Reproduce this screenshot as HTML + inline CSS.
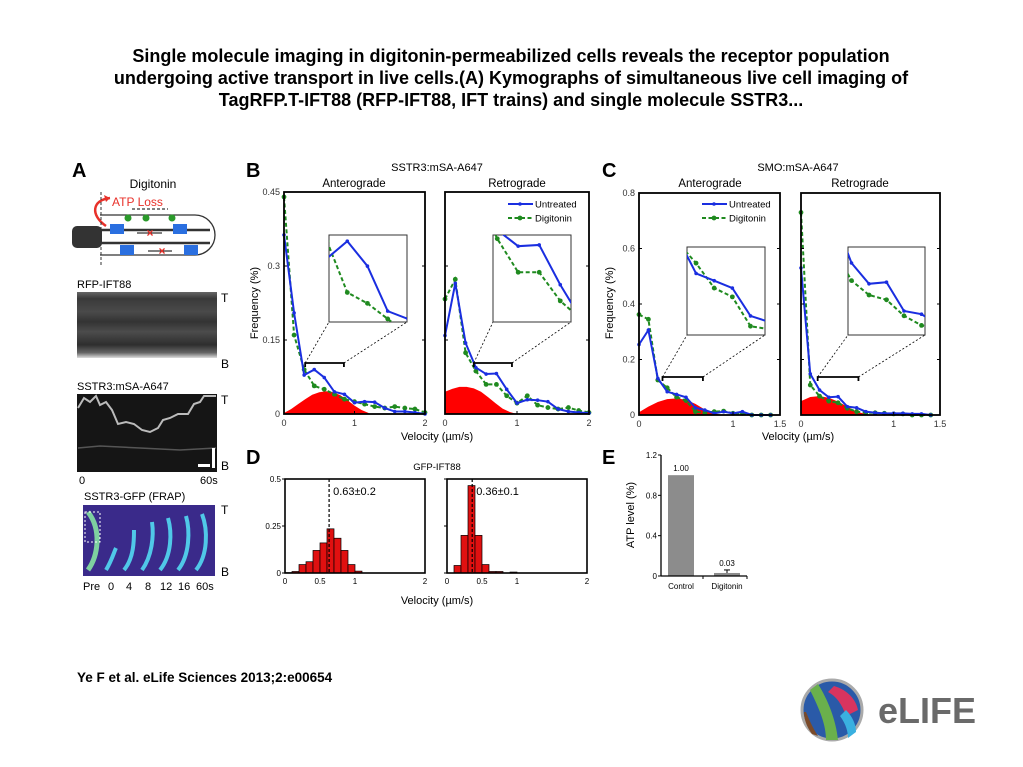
<!DOCTYPE html>
<html><head><meta charset="utf-8"><style>
body{margin:0;background:#fff;}
svg{display:block;font-family:"Liberation Sans",Arial,sans-serif;}
</style></head><body>
<svg id="fig" width="1023" height="767" viewBox="0 0 1023 767" xmlns="http://www.w3.org/2000/svg">
<defs>
<linearGradient id="kg1" x1="0" y1="0" x2="0" y2="1">
<stop offset="0" stop-color="#666"/><stop offset="0.1" stop-color="#3a3a3a"/><stop offset="0.3" stop-color="#4a4a4a"/><stop offset="0.45" stop-color="#333"/><stop offset="0.6" stop-color="#4c4c4c"/><stop offset="0.8" stop-color="#2e2e2e"/><stop offset="0.92" stop-color="#666"/><stop offset="1" stop-color="#ddd"/>
</linearGradient>
</defs>
<g font-weight="bold" font-size="18" text-anchor="middle" fill="#000">
<text x="511" y="62">Single molecule imaging in digitonin-permeabilized cells reveals the receptor population</text>
<text x="511" y="84">undergoing active transport in live cells.(A) Kymographs of simultaneous live cell imaging of</text>
<text x="511" y="106">TagRFP.T-IFT88 (RFP-IFT88, IFT trains) and single molecule SSTR3...</text>
</g>
<g font-weight="bold" font-size="20">
<text x="72" y="177">A</text><text x="246" y="177">B</text><text x="602" y="177">C</text><text x="246" y="464">D</text><text x="602" y="464">E</text>
</g>

<!-- Panel A -->
<g font-size="11">
<text x="153" y="188" text-anchor="middle" font-size="12">Digitonin</text>
<text x="112" y="206" fill="#e8312a" font-size="12">ATP Loss</text>
<path d="M106 226 C 90 215, 92 200, 110 198" stroke="#e8312a" stroke-width="2.5" fill="none"/>
<path d="M110 198 l-6 -3 l2 7z" fill="#e8312a"/>
<line x1="101" y1="192" x2="101" y2="265" stroke="#333" stroke-dasharray="3,2"/>
<path d="M100 215 L195 215 A20 20 0 0 1 195 255 L100 255" stroke="#333" fill="none" stroke-width="1.3"/>
<rect x="72" y="226" width="30" height="22" rx="5" fill="#333"/>
<line x1="100" y1="230" x2="210" y2="230" stroke="#333" stroke-width="2.5"/>
<line x1="100" y1="243" x2="210" y2="243" stroke="#333" stroke-width="2.5"/>
<rect x="110" y="224" width="14" height="10" fill="#2a6fe0"/><rect x="173" y="224" width="14" height="10" fill="#2a6fe0"/>
<rect x="120" y="245" width="14" height="10" fill="#2a6fe0"/><rect x="184" y="245" width="14" height="10" fill="#2a6fe0"/>
<circle cx="128" cy="218" r="3.5" fill="#2a9a2a"/><circle cx="146" cy="218" r="3.5" fill="#2a9a2a"/><circle cx="172" cy="218" r="3.5" fill="#2a9a2a"/>
<line x1="132" y1="209" x2="168" y2="209" stroke="#000" stroke-dasharray="3,2"/>
<line x1="137" y1="233" x2="162" y2="233" stroke="#000"/><line x1="148" y1="251" x2="172" y2="251" stroke="#000"/>
<text x="150" y="237" fill="#e8312a" font-size="12" text-anchor="middle" font-weight="bold">×</text>
<text x="162" y="255" fill="#e8312a" font-size="12" text-anchor="middle" font-weight="bold">×</text>
<text x="77" y="288">RFP-IFT88</text>
<rect x="77" y="292" width="140" height="66" fill="url(#kg1)"/>
<text x="221" y="302" font-size="12">T</text><text x="221" y="368" font-size="12">B</text>
<text x="77" y="390">SSTR3:mSA-A647</text>
<rect x="77" y="394" width="140" height="78" fill="#151515"/>
<polyline points="78,408 84,398 90,402 96,396 100,405 106,402 112,410 118,424 126,422 134,424 142,430 150,432 158,428 163,420 170,418 178,414 188,414 194,404 200,402 204,396 216,396" stroke="#bbb" stroke-width="2" fill="none"/>
<polyline points="78,448 100,446 140,448 180,450 216,448" stroke="#555" stroke-width="1.5" fill="none"/>
<rect x="198" y="464" width="12" height="3" fill="#fff"/><rect x="212" y="448" width="3" height="20" fill="#fff"/>
<text x="221" y="404" font-size="12">T</text><text x="221" y="470" font-size="12">B</text>
<text x="79" y="484">0</text><text x="200" y="484">60s</text>
<text x="84" y="500">SSTR3-GFP (FRAP)</text>
<rect x="83" y="505" width="132" height="71" fill="#3a2a8a"/>
<path d="M88 512 C 102 530, 98 556, 88 570" stroke="#7ed0a0" stroke-width="5" fill="none"/>
<path d="M106 570 C 112 560, 114 552, 116 548" stroke="#50c8e8" stroke-width="4" fill="none"/>
<path d="M124 570 C 134 558, 134 540, 134 530" stroke="#50c8e8" stroke-width="4" fill="none"/>
<path d="M142 570 C 152 556, 154 536, 152 522" stroke="#50c8e8" stroke-width="4" fill="none"/>
<path d="M160 570 C 172 555, 172 532, 168 518" stroke="#50c8e8" stroke-width="4" fill="none"/>
<path d="M178 570 C 190 555, 190 530, 186 516" stroke="#50c8e8" stroke-width="4" fill="none"/>
<path d="M196 570 C 208 555, 208 530, 202 514" stroke="#50c8e8" stroke-width="4" fill="none"/>
<rect x="85" y="512" width="15" height="30" fill="none" stroke="#fff" stroke-dasharray="2,2"/>
<text x="221" y="514" font-size="12">T</text><text x="221" y="576" font-size="12">B</text>
<text x="83" y="590" font-size="11">Pre</text><text x="108" y="590">0</text><text x="126" y="590">4</text><text x="145" y="590">8</text><text x="160" y="590">12</text><text x="178" y="590">16</text><text x="196" y="590">60s</text>
</g>

<g id="charts"></g>

<g><text x="77" y="682" font-size="13.5" font-weight="bold">Ye F et al. eLife Sciences 2013;2:e00654</text></g>
<g>
<circle cx="832" cy="710" r="30" fill="#2a5aa8" stroke="#aaa" stroke-width="3"/>
<path d="M810 690 C 820 710, 826 725, 826 740 L838 740 C 836 720, 828 700, 818 684Z" fill="#6ab04c"/>
<path d="M834 686 C 848 690, 856 700, 858 710 L 846 716 C 842 704, 836 696, 828 692Z" fill="#d8345f"/>
<path d="M840 716 C 846 724, 848 732, 848 738 L856 732 C 856 724, 852 716, 846 710Z" fill="#3ab0e0"/>
<path d="M806 712 C 810 722, 814 730, 818 736 L812 734 C 806 726, 804 718, 804 712Z" fill="#7a4a2a"/>
<text x="878" y="723" font-size="36" font-weight="bold" fill="#6a6a6a">eLIFE</text>
</g>
</svg>
<script>
// ---- Panel B data (SSTR3) ----
const vStepB = [0,0.143,0.286,0.429,0.571,0.714,0.857,1.0,1.143,1.286,1.429,1.571,1.714,1.857,2.0];
const bAntUntreated = [0.363,0.205,0.079,0.09,0.074,0.045,0.04,0.023,0.025,0.024,0.012,0.005,0.005,0.003,0.0];
const bAntDigitonin = [0.44,0.16,0.09,0.057,0.05,0.04,0.03,0.025,0.02,0.015,0.012,0.015,0.012,0.01,0.003];
const bRetUntreated = [0.159,0.265,0.144,0.094,0.081,0.082,0.05,0.022,0.029,0.028,0.025,0.01,0.005,0.003,0.002];
const bRetDigitonin = [0.233,0.273,0.124,0.087,0.06,0.06,0.037,0.022,0.037,0.018,0.013,0.01,0.013,0.007,0.003];
const redXB = [0,0.1,0.2,0.3,0.4,0.5,0.6,0.7,0.8,0.9,1.0,1.1,1.2];
const bAntFit = [0.002,0.01,0.02,0.03,0.039,0.044,0.046,0.044,0.038,0.028,0.017,0.008,0.002];
const bRetFit = [0.045,0.051,0.055,0.055,0.052,0.045,0.034,0.022,0.011,0.004,0.0,0,0];
const bYTicks = [0,0.15,0.3,0.45];
const bYLabels = ["0","0.15","0.3","0.45"];
const bXTicks = [0,1,2];
// ---- Panel C data (SMO) ----
const vStepC = [0,0.1,0.2,0.3,0.4,0.5,0.6,0.7,0.8,0.9,1.0,1.1,1.2,1.3,1.4];
const cAntUntreated = [0.254,0.306,0.132,0.084,0.074,0.064,0.026,0.018,0.006,0.012,0.006,0.012,0.0,0.0,0.0];
const cAntDigitonin = [0.362,0.345,0.126,0.098,0.064,0.052,0.012,0.008,0.012,0.014,0.006,0.006,0.0,0.0,0.0];
const cRetUntreated = [0.53,0.148,0.09,0.064,0.066,0.03,0.026,0.012,0.008,0.006,0.006,0.006,0.004,0.004,0.0];
const cRetDigitonin = [0.73,0.108,0.068,0.05,0.044,0.024,0.012,0.008,0.008,0.006,0.004,0.004,0.0,0.0,0.0];
const redXC = [0,0.1,0.2,0.3,0.4,0.5,0.6,0.7,0.8,0.9];
const cAntFit = [0.01,0.03,0.047,0.057,0.06,0.055,0.04,0.02,0.005,0];
const cRetFit = [0.05,0.065,0.068,0.062,0.048,0.03,0.012,0.003,0,0];
const cYTicks = [0,0.2,0.4,0.6,0.8];
const cYLabels = ["0","0.2","0.4","0.6","0.8"];
const cXTicks = [0,1,1.5];
// ---- Panel D data (GFP-IFT88 histograms) ----
const dBinStart = [0,0.1,0.2,0.3,0.4,0.5,0.6,0.7,0.8,0.9,1.0,1.1,1.2];
const dAntCounts = [0.002,0.008,0.045,0.06,0.12,0.16,0.235,0.185,0.12,0.045,0.01,0,0];
const dRetCounts = [0,0.04,0.2,0.465,0.2,0.045,0.008,0.008,0.0,0.005,0,0,0];
const dMeans = [0.63,0.36];
const dMeanLabels = ["0.63±0.2","0.36±0.1"];
const dYTicks = [0,0.25,0.5];
const dXTicks = [0,0.5,1,2];
// ---- Panel E data (ATP) ----
const eCats = ["Control","Digitonin"];
const eVals = [1.00,0.03];
const eErr = [0,0.03];
const eYTicks = [0,0.4,0.8,1.2];

const NS="http://www.w3.org/2000/svg";
const root=document.getElementById('charts');
function mk(tag,attrs,parent,txt){const e=document.createElementNS(NS,tag);for(const k in attrs)e.setAttribute(k,attrs[k]);if(txt!==undefined)e.textContent=txt;(parent||root).appendChild(e);return e;}
function lin(d0,d1,r0,r1){return v=>r0+(v-d0)/(d1-d0)*(r1-r0);}
let clipId=0;

function linePlot(o){
  const g=mk('g',{});
  
  
  const sx=lin(0,o.xmax,o.x0,o.x1), sy=lin(0,o.ymax,o.y1,o.y0);
  let d='M'+sx(o.redX[0])+','+sy(0);
  o.redX.forEach((x,i)=>{d+=' L'+sx(x)+','+sy(o.red[i]);});
  d+=' L'+sx(o.redX[o.redX.length-1])+','+sy(0)+'Z';
  const ra=mk('path',{d:d,fill:'#ff0000'},g);
  
  
  function series(xs,ys,scx,scy,parent,isDig){
    const pts=xs.map((x,i)=>scx(x)+','+scy(ys[i])).join(' ');
    const pl=mk('polyline',{points:pts,fill:'none',stroke:isDig?'#1f8a1f':'#1a2ee0','stroke-width':2,'stroke-dasharray':isDig?'4,2.5':'none'},parent);
    
    
    xs.forEach((x,i)=>{const c=mk('circle',{cx:scx(x),cy:scy(ys[i]),r:isDig?2.4:1.8,fill:isDig?'#1f8a1f':'#1a2ee0'},parent);
      
      });
  }
  series(o.xs,o.dig,sx,sy,g,true);
  series(o.xs,o.unt,sx,sy,g,false);
  const fr=mk('rect',{x:o.x0,y:o.y0,width:o.x1-o.x0,height:o.y1-o.y0,fill:'none',stroke:'#000','stroke-width':1.8},g);
  
  
  o.yt.forEach((v,i)=>{
    mk('line',{x1:o.x0,x2:o.x0+3,y1:sy(v),y2:sy(v),stroke:'#000'},g);
    mk('line',{x1:o.x1,x2:o.x1-3,y1:sy(v),y2:sy(v),stroke:'#000'},g);
    if(o.ylab){const t=mk('text',{x:o.x0-4,y:sy(v)+3,'font-size':9,'text-anchor':'end',fill:'#333'},g,o.ylab[i]);
      }
  });
  o.xt.forEach(v=>{
    mk('line',{x1:sx(v),x2:sx(v),y1:o.y1,y2:o.y1-3,stroke:'#000'},g);
    const t=mk('text',{x:sx(v),y:o.y1+12,'font-size':9,'text-anchor':'middle',fill:'#333'},g,String(v));
    
  });
  const bx0=sx(o.ix[0]),bx1=sx(o.ix[1]),by=o.by;
  mk('path',{d:`M${bx0},${by+4} V${by} H${bx1} V${by+4}`,stroke:'#000','stroke-width':1.8,fill:'none'},g);
  const I=o.inset;
  mk('line',{x1:bx0,y1:by,x2:I[0],y2:I[3],stroke:'#000','stroke-dasharray':'2,2','stroke-width':0.8},g);
  mk('line',{x1:bx1,y1:by,x2:I[2],y2:I[3],stroke:'#000','stroke-dasharray':'2,2','stroke-width':0.8},g);
  const ig=mk('g',{},g);
  
  
  clipId++;
  const cp=mk('clipPath',{id:'clip'+clipId},ig);
  mk('rect',{x:I[0],y:I[1],width:I[2]-I[0],height:I[3]-I[1]},cp);
  mk('rect',{x:I[0],y:I[1],width:I[2]-I[0],height:I[3]-I[1],fill:'#fff',stroke:'#333','stroke-width':1},ig);
  const ic=mk('g',{'clip-path':`url(#clip${clipId})`},ig);
  const isx=lin(o.ix[0],o.ix[1],I[0],I[2]), isy=lin(o.iy[0],o.iy[1],I[3],I[1]);
  series(o.xs,o.dig,isx,isy,ic,true);
  series(o.xs,o.unt,isx,isy,ic,false);
  if(o.legend){
    const [lx,ly]=o.legend;
    mk('line',{x1:lx,x2:lx+25,y1:ly,y2:ly,stroke:'#1a2ee0','stroke-width':2},g);
    mk('circle',{cx:lx+12,cy:ly,r:1.8,fill:'#1a2ee0'},g);
    const t1=mk('text',{x:lx+27,y:ly+3.5,'font-size':9.5},g,'Untreated');
    
    mk('line',{x1:lx,x2:lx+25,y1:ly+14,y2:ly+14,stroke:'#1f8a1f','stroke-width':2,'stroke-dasharray':'4,2.5'},g);
    mk('circle',{cx:lx+12,cy:ly+14,r:2.4,fill:'#1f8a1f'},g);
    const t2=mk('text',{x:lx+27,y:ly+17.5,'font-size':9.5},g,'Digitonin');
    
  }
}

linePlot({name:'b-anterograde-plot',x0:284,x1:425,y0:192,y1:414,xmax:2,ymax:0.45,xs:vStepB,unt:bAntUntreated,dig:bAntDigitonin,redX:redXB,red:bAntFit,yt:bYTicks,ylab:bYLabels,xt:bXTicks,ix:[0.3,0.85],iy:[0.038,0.094],by:363,inset:[329,235,407,322]});
linePlot({name:'b-retrograde-plot',x0:445,x1:589,y0:192,y1:414,xmax:2,ymax:0.45,xs:vStepB,unt:bRetUntreated,dig:bRetDigitonin,redX:redXB,red:bRetFit,yt:bYTicks,xt:bXTicks,ix:[0.4,0.93],iy:[0.02,0.09],by:363,inset:[493,235,571,322],legend:[508,204]});
linePlot({name:'c-anterograde-plot',x0:639,x1:780,y0:193,y1:415,xmax:1.5,ymax:0.8,xs:vStepC,unt:cAntUntreated,dig:cAntDigitonin,redX:redXC,red:cAntFit,yt:cYTicks,ylab:cYLabels,xt:cXTicks,ix:[0.25,0.68],iy:[0.0,0.12],by:377,inset:[687,247,765,335],legend:[702,204]});
linePlot({name:'c-retrograde-plot',x0:801,x1:940,y0:193,y1:415,xmax:1.5,ymax:0.8,xs:vStepC,unt:cRetUntreated,dig:cRetDigitonin,redX:redXC,red:cRetFit,yt:cYTicks,xt:cXTicks,ix:[0.18,0.62],iy:[0.0,0.11],by:377,inset:[848,247,925,335]});

function lbl(x,y,txt,size,name,extra){const t=mk('text',Object.assign({x:x,y:y,'font-size':size,'text-anchor':'middle'},extra||{}),root,txt);return t;}
lbl(437,171,'SSTR3:mSA-A647',11,'b-title');
lbl(354,187,'Anterograde',11.5,'b-anterograde-title');
lbl(517,187,'Retrograde',11.5,'b-retrograde-title');
lbl(437,440,'Velocity (µm/s)',11,'b-x-axis-title');
lbl(258,303,'Frequency (%)',11,'b-y-axis-title',{transform:'rotate(-90 258 303)'});
lbl(798,171,'SMO:mSA-A647',11,'c-title');
lbl(710,187,'Anterograde',11.5,'c-anterograde-title');
lbl(860,187,'Retrograde',11.5,'c-retrograde-title');
lbl(798,440,'Velocity (µm/s)',11,'c-x-axis-title');
lbl(613,303,'Frequency (%)',11,'c-y-axis-title',{transform:'rotate(-90 613 303)'});

function hist(name,x0,x1,counts,mean,meanLbl,showY){
  const g=mk('g',{});
  
  
  const y0=479,y1=573,sx=lin(0,2,x0,x1),sy=lin(0,0.5,y1,y0);
  dBinStart.forEach((b,i)=>{ if(counts[i]<=0)return;
    const r=mk('rect',{x:sx(b),y:sy(counts[i]),width:sx(b+0.1)-sx(b),height:y1-sy(counts[i]),fill:'#e01010',stroke:'#000','stroke-width':0.7},g);
    });
  mk('line',{x1:sx(mean),x2:sx(mean),y1:y0,y2:y1,stroke:'#000','stroke-width':1.2,'stroke-dasharray':'3,2'},g);
  const t=mk('text',{x:sx(mean)+4,y:y0+16,'font-size':11},g,meanLbl);
  
  mk('rect',{x:x0,y:y0,width:x1-x0,height:y1-y0,fill:'none',stroke:'#000','stroke-width':1.6},g);
  dYTicks.forEach(v=>{mk('line',{x1:x0-3,x2:x0,y1:sy(v),y2:sy(v),stroke:'#000'},g);
    if(showY){const tt=mk('text',{x:x0-4,y:sy(v)+3,'font-size':8,'text-anchor':'end'},g,String(v));}});
  dXTicks.forEach(v=>{const tt=mk('text',{x:sx(v),y:y1+11,'font-size':8,'text-anchor':'middle'},g,String(v));});
}
hist('d-anterograde-histogram',285,425,dAntCounts,dMeans[0],dMeanLabels[0],true);
hist('d-retrograde-histogram',447,587,dRetCounts,dMeans[1],dMeanLabels[1],false);
lbl(437,470,'GFP-IFT88',9.5,'d-title');
lbl(437,604,'Velocity (µm/s)',11,'d-x-axis-title');

(function(){
  const g=mk('g',{});
  
  
  const ax=661,y0=455,y1=576,sy=lin(0,1.2,y1,y0);
  const cx=[681,727];
  eCats.forEach((c,i)=>{
    const r=mk('rect',{x:cx[i]-13,y:sy(eVals[i]),width:26,height:y1-sy(eVals[i]),fill:'#8c8c8c'},g);
    
    if(eErr[i]>0){mk('line',{x1:cx[i],x2:cx[i],y1:sy(eVals[i]),y2:sy(eVals[i]+eErr[i]),stroke:'#000'},g);
      mk('line',{x1:cx[i]-3,x2:cx[i]+3,y1:sy(eVals[i]+eErr[i]),y2:sy(eVals[i]+eErr[i]),stroke:'#000'},g);}
    const v=mk('text',{x:cx[i],y:sy(eVals[i]+eErr[i])-4,'font-size':8,'text-anchor':'middle'},g,eVals[i].toFixed(2));
    
    const t=mk('text',{x:cx[i],y:y1+13,'font-size':8,'text-anchor':'middle'},g,c);
    
  });
  mk('line',{x1:ax,x2:ax,y1:y0,y2:y1,stroke:'#000','stroke-width':1.3},g);
  mk('line',{x1:ax,x2:747,y1:y1,y2:y1,stroke:'#000','stroke-width':1.3},g);
  mk('line',{x1:703,x2:703,y1:y1,y2:y1+3,stroke:'#000'},g);
  mk('line',{x1:747,x2:747,y1:y1,y2:y1+3,stroke:'#000'},g);
  eYTicks.forEach(v=>{mk('line',{x1:ax-3,x2:ax,y1:sy(v),y2:sy(v),stroke:'#000'},g);
    const t=mk('text',{x:ax-4,y:sy(v)+3,'font-size':8,'text-anchor':'end'},g,String(v));
    });
})();
lbl(634,515,'ATP level (%)',11,'e-y-axis-title',{transform:'rotate(-90 634 515)'});
</script>
</body></html>
